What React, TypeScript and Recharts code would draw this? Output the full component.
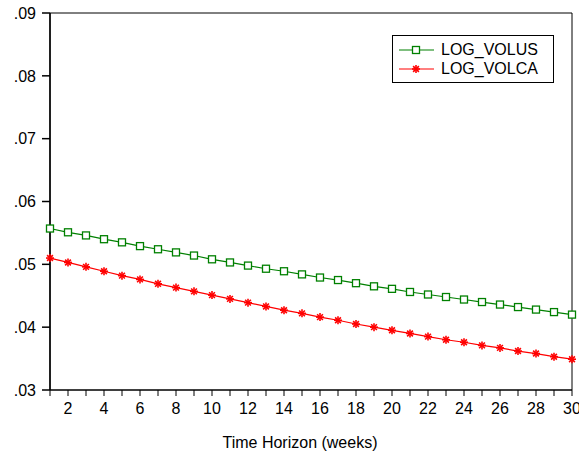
import { LineChart, Line, XAxis, YAxis, ReferenceArea } from 'recharts';

const weeks = [1, 2, 3, 4, 5, 6, 7, 8, 9, 10, 11, 12, 13, 14, 15, 16, 17, 18, 19, 20, 21, 22, 23, 24, 25, 26, 27, 28, 29, 30];

const logVolUS = [
    0.0557, 0.0551, 0.0546, 0.0540, 0.0535, 0.0529, 0.0524, 0.0519, 0.0514, 0.0508,
    0.0503, 0.0498, 0.0493, 0.0489, 0.0484, 0.0479, 0.0475, 0.0470, 0.0465, 0.0461,
    0.0456, 0.0452, 0.0448, 0.0444, 0.0440, 0.0436, 0.0432, 0.0428, 0.0424, 0.0420,
];

const logVolCA = [
    0.0510, 0.0503, 0.0496, 0.0489, 0.0482, 0.0476, 0.0469, 0.0463, 0.0457, 0.0451,
    0.0445, 0.0439, 0.0433, 0.0427, 0.0422, 0.0416, 0.0411, 0.0405, 0.0400, 0.0395,
    0.0390, 0.0385, 0.0380, 0.0376, 0.0371, 0.0367, 0.0362, 0.0358, 0.0353, 0.0349,
];

const yTicks = [0.03, 0.04, 0.05, 0.06, 0.07, 0.08, 0.09];

const GREEN = '#008000';
const RED = '#ff0000';
const FONT = '"Liberation Sans", Arial, sans-serif';

const data = weeks.map((w, i) => ({ week: w, us: logVolUS[i], ca: logVolCA[i] }));

function SquareDot(props: any) {
    const { cx, cy } = props;
    if (cx == null || cy == null) return null;
    return <rect x={cx - 3.5} y={cy - 3.5} width={7} height={7} fill="#fff" stroke={GREEN} strokeWidth={1.3} />;
}

function StarDot(props: any) {
    const { cx, cy } = props;
    if (cx == null || cy == null) return null;
    const r = 4;
    const d = r * 0.72;
    return (
        <g stroke={RED} strokeWidth={1.6}>
            <line x1={cx} y1={cy - r} x2={cx} y2={cy + r} />
            <line x1={cx - r} y1={cy} x2={cx + r} y2={cy} />
            <line x1={cx - d} y1={cy - d} x2={cx + d} y2={cy + d} />
            <line x1={cx - d} y1={cy + d} x2={cx + d} y2={cy - d} />
        </g>
    );
}

// legend drawn as plain html over the chart so it doesn't shrink the plot
function LegendBox() {
    const rows = [
        { name: 'LOG_VOLUS', color: GREEN, dot: SquareDot },
        { name: 'LOG_VOLCA', color: RED, dot: StarDot },
    ];
    return (
        <div style={{
            position: 'absolute',
            left: 392,
            top: 35,
            border: '1px solid #000',
            width: 162,
            height: 48,
            background: '#fff',
            fontFamily: FONT,
            fontSize: 16,
            boxSizing: 'border-box',
            paddingTop: 4,
        }}>
            {rows.map(r => {
                const Dot = r.dot;
                return (
                    <div key={r.name} style={{ display: 'flex', alignItems: 'center', height: 19 }}>
                        <svg width={42} height={14} style={{ marginLeft: 6 }}>
                            <line x1={0} y1={7} x2={35} y2={7} stroke={r.color} strokeWidth={1.2} />
                            <Dot cx={17} cy={7} />
                        </svg>
                        <span style={{ color: '#000' }}>{r.name}</span>
                    </div>
                );
            })}
        </div>
    );
}

export default function App() {
    return (
        <div style={{ position: 'absolute', left: 0, top: 0, width: 579, height: 453, background: '#fff' }}>
            <LineChart width={579} height={453} data={data} margin={{ top: 13, right: 7, left: 0, bottom: 0 }}>
                <XAxis
                    dataKey="week"
                    type="number"
                    domain={[1, 30]}
                    ticks={weeks}
                    interval={0}
                    tickFormatter={(v: number) => (v % 2 === 0 ? String(v) : '')}
                    height={63}
                    tickSize={6}
                    tickMargin={7}
                    stroke="#000"
                    tick={{ fill: '#000', fontSize: 16, fontFamily: FONT }}
                    label={{ value: 'Time Horizon (weeks)', position: 'insideBottom', offset: 5, dx: -11, fill: '#000', fontSize: 16, fontFamily: FONT }}
                />
                <YAxis
                    type="number"
                    domain={[0.03, 0.09]}
                    ticks={yTicks}
                    interval={0}
                    width={50}
                    tickSize={8}
                    tickMargin={6}
                    stroke="#000"
                    strokeWidth={1.5}
                    tickFormatter={(v: number) => v.toFixed(2).replace(/^0/, '')}
                    tick={{ fill: '#000', fontSize: 16, fontFamily: FONT }}
                />
                <ReferenceArea x1={1} x2={30} y1={0.03} y2={0.09} fill="none" stroke="#000" strokeWidth={1} ifOverflow="visible" />
                <Line
                    type="linear"
                    dataKey="us"
                    name="LOG_VOLUS"
                    stroke={GREEN}
                    strokeWidth={1.2}
                    dot={<SquareDot />}
                    isAnimationActive={false}
                />
                <Line
                    type="linear"
                    dataKey="ca"
                    name="LOG_VOLCA"
                    stroke={RED}
                    strokeWidth={1.2}
                    dot={<StarDot />}
                    isAnimationActive={false}
                />
            </LineChart>
            <LegendBox />
        </div>
    );
}
